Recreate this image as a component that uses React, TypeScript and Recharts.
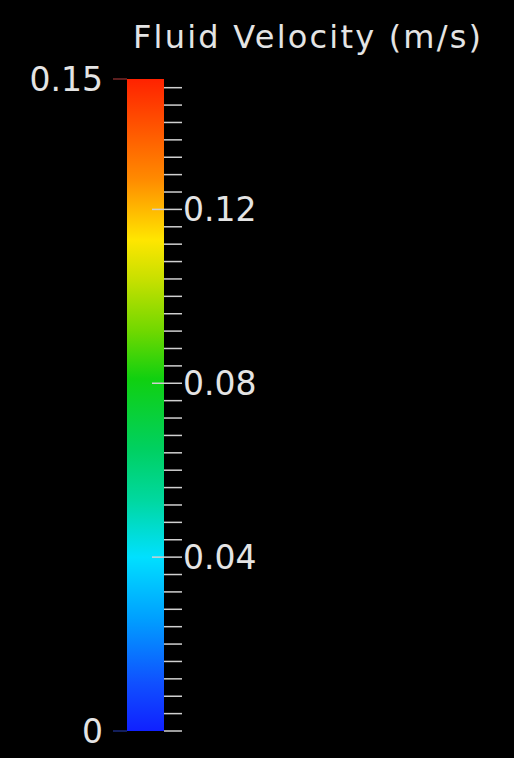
import { Bar, BarChart, Line, XAxis, YAxis } from "recharts";

const categorias = ["velocidade"];
const valores = [0.15];
const ticksEsquerda = [0, 0.15];
const ticksDireita = [
  0, 0.004, 0.008, 0.012, 0.016, 0.02, 0.024, 0.028, 0.032, 0.036, 0.04,
  0.044, 0.048, 0.052, 0.056, 0.06, 0.064, 0.068, 0.072, 0.076, 0.08, 0.084,
  0.088, 0.092, 0.096, 0.1, 0.104, 0.108, 0.112, 0.116, 0.12, 0.124, 0.128,
  0.132, 0.136, 0.14, 0.144, 0.148,
];
const rotulosDireita = [0.04, 0.08, 0.12];

// paradas da escala de cores (valor -> cor)
const paradasValor = [0.15, 0.127, 0.113, 0.104, 0.092, 0.081, 0.065, 0.053, 0.04, 0.026, 0.011, 0];
const paradasCor = [
  "#ff2200", "#ff8a00", "#ffe600", "#c8e000", "#70d800", "#10d010",
  "#00d060", "#00d8a0", "#00e0ff", "#00a0ff", "#1050ff", "#1020ff",
];

const MAX = 0.15;
const dados = categorias.map((c, i) => ({ nome: c, valor: valores[i] }));

const fonte = "'DejaVu Sans', sans-serif";
const corTexto = "#e4e4e4";

const TickEsquerda = (props: any) => {
  const { x, y, payload } = props;
  const cor = payload.value > 0 ? "#7a2a2a" : "#1a2a7a";
  return (
    <g>
      <line x1={x - 14} y1={y} x2={x} y2={y} stroke={cor} strokeWidth={1.5} />
      <text x={x - 24} y={y + 12} textAnchor="end" fill={corTexto} fontSize={33} fontFamily={fonte}>
        {payload.value === 0 ? "0" : payload.value.toFixed(2)}
      </text>
    </g>
  );
};

const TickDireita = (props: any) => {
  const { x, y, payload } = props;
  const maior = rotulosDireita.some((v) => Math.abs(v - payload.value) < 1e-9);
  return (
    <g>
      <line x1={maior ? x - 12 : x} y1={y} x2={x + 18} y2={y} stroke="#d0d0d0" strokeWidth={1.5} />
      {maior && (
        <text x={x + 19} y={y + 12} fill={corTexto} fontSize={33} fontFamily={fonte}>
          {payload.value.toFixed(2)}
        </text>
      )}
    </g>
  );
};

const SemPonto = () => <g />;

export default function App() {
  return (
    <div style={{ position: "absolute", left: 0, top: 0, width: 514, height: 758, background: "#000" }}>
      <BarChart
        width={514}
        height={758}
        data={dados}
        margin={{ top: 79, right: 0, bottom: 27, left: 0 }}
        barCategoryGap={0}
      >
        <defs>
          <linearGradient id="escala" x1="0" y1="0" x2="0" y2="1">
            {paradasValor.map((v, i) => (
              <stop key={i} offset={`${(1 - v / MAX) * 100}%`} stopColor={paradasCor[i]} />
            ))}
          </linearGradient>
        </defs>
        <text x={133} y={48} fill={corTexto} fontSize={32} fontFamily={fonte} letterSpacing={2.2}>
          Fluid Velocity (m/s)
        </text>
        <XAxis dataKey="nome" hide />
        <YAxis
          yAxisId="left"
          orientation="left"
          width={127}
          domain={[0, MAX]}
          type="number"
          ticks={ticksEsquerda}
          interval={0}
          axisLine={false}
          tickLine={false}
          tickSize={0}
          tickMargin={0}
          tick={<TickEsquerda />}
        />
        <YAxis
          yAxisId="right"
          orientation="right"
          width={350}
          domain={[0, MAX]}
          type="number"
          ticks={ticksDireita}
          interval={0}
          axisLine={false}
          tickLine={false}
          tickSize={0}
          tickMargin={0}
          tick={<TickDireita />}
        />
        <Bar yAxisId="left" dataKey="valor" fill="url(#escala)" isAnimationActive={false} />
        {/* serie invisivel so para ancorar o eixo da direita */}
        <Line
          yAxisId="right"
          dataKey="valor"
          stroke="none"
          strokeWidth={0}
          dot={<SemPonto />}
          activeDot={false}
          legendType="none"
          isAnimationActive={false}
        />
      </BarChart>
    </div>
  );
}
